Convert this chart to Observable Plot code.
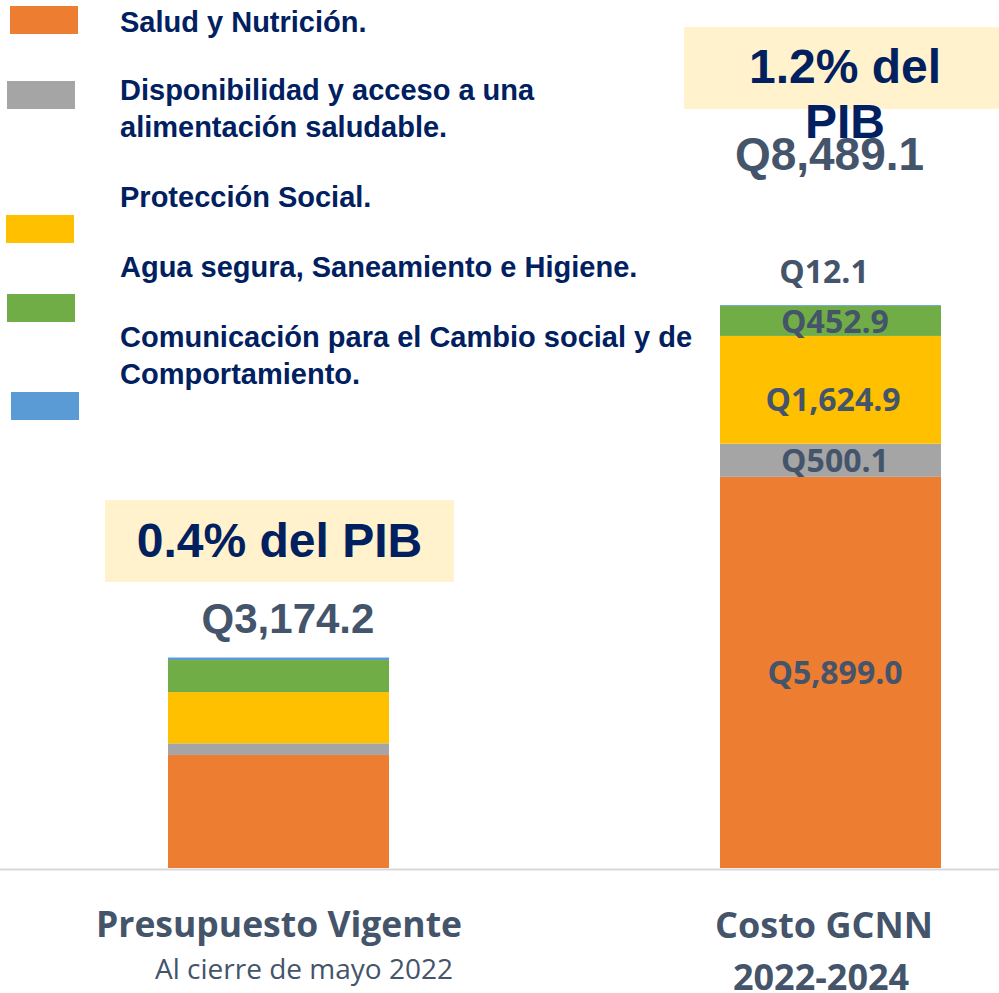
<!DOCTYPE html>
<html><head><meta charset="utf-8">
<script src="https://cdn.jsdelivr.net/npm/d3@7"></script>
<script src="https://cdn.jsdelivr.net/npm/@observablehq/plot@0.6"></script>
<style>
body{margin:0;background:#fff;}
#wrap{position:relative;width:999px;height:993px;overflow:hidden;background:#fff;}
#wrap svg{position:absolute;left:0;top:0;}
.sw{position:absolute;width:68px;height:28px;}
.lg{position:absolute;left:120px;font:bold 29px/37px "Liberation Sans",Arial,sans-serif;color:#002060;white-space:pre;}
.pib{position:absolute;height:82px;background:#FFF2CC;box-sizing:border-box;text-align:center;font:bold 48px/55px "Liberation Sans",Arial,sans-serif;color:#002060;white-space:pre;}
</style></head><body><div id="wrap"></div>
<script>
// ---- data ----
const categories = ["Presupuesto Vigente", "Costo GCNN"];
const series = [
  "Salud y Nutrición.",
  "Disponibilidad y acceso a una alimentación saludable.",
  "Protección Social.",
  "Agua segura, Saneamiento e Higiene.",
  "Comunicación para el Cambio social y de Comportamiento."
];
const presupuestoValues = [1705.0, 175.0, 773.0, 483.0, 38.2];
const costoValues = [5899.0, 500.1, 1624.9, 452.9, 12.1];
const totals = [3174.2, 8489.1];
const pibLabels = ["0.4% del PIB", "1.2% del\nPIB"];
const categoryLine1 = ["Presupuesto Vigente", "Costo GCNN"];
const categoryLine2 = ["Al cierre de mayo 2022", "2022-2024"];
const legendLabels = [
  "Salud y Nutrición.",
  "Disponibilidad y acceso a una\nalimentación saludable.",
  "Protección Social.",
  "Agua segura, Saneamiento e Higiene.",
  "Comunicación para el Cambio social y de\nComportamiento."
];
const colors = ["#ED7D31", "#A5A5A5", "#FFC000", "#70AD47", "#5B9BD5"];

// ---- layout (styles only) ----
const swatchPos = [[10, 6], [7, 81], [6, 215], [7, 294], [11, 392]];
const legendTops = [3.5, 71.5, 178.5, 248.5, 318.5];
const pibBoxes = [{left: 105, top: 500, width: 349, pad: 13}, {left: 684, top: 27, width: 322, pad: 12}];

// ---- tables ----
const rows = [];
[presupuestoValues, costoValues].forEach((vals, i) =>
  vals.forEach((v, j) => rows.push({cat: categories[i], series: series[j], value: v, idx: j})));
const totalRows = categories.map((c, i) => ({cat: c, total: totals[i]}));
const catRows = categories.map((c, i) => ({cat: c, l1: categoryLine1[i], l2: categoryLine2[i]}));
const fmt = d3.format(",.1f");
const slate = "#44546A";
const calibriLike = "'Open Sans', sans-serif";
const arialLike = "'Liberation Sans', Arial, sans-serif";
const segText = (pred) => d => (d.cat === categories[1] && pred(d.idx)) ? "Q" + fmt(d.value) : null;

const chart = Plot.plot({
  width: 999, height: 993,
  marginTop: 0, marginBottom: 125, marginLeft: 0, marginRight: 0,
  x: {type: "band", domain: categories, range: [112, 996], paddingInner: 0.6, paddingOuter: 0.1, axis: null},
  y: {domain: [0, 13090], axis: null},
  color: {domain: series, range: colors},
  marks: [
    Plot.barY(rows, {x: "cat", y: "value", fill: "series"}),
    Plot.ruleY([0], {stroke: "#D9D9D9", strokeWidth: 2, dy: 1}),
    // segment labels (Costo GCNN)
    Plot.text(rows, Plot.stackY({x: "cat", y: "value", z: "series",
      text: segText(i => i === 0 || i === 1 || i === 3),
      fill: slate, fontFamily: calibriLike, fontWeight: "bold", fontSize: 32, dx: 4, dy: 1})),
    Plot.text(rows, Plot.stackY({x: "cat", y: "value", z: "series",
      text: segText(i => i === 2),
      fill: slate, fontFamily: calibriLike, fontWeight: "bold", fontSize: 32, dx: 2, dy: 10})),
    Plot.text(rows, Plot.stackY2({x: "cat", y: "value", z: "series",
      text: segText(i => i === 4),
      fill: slate, fontFamily: calibriLike, fontWeight: "bold", fontSize: 32, dx: -7, dy: -33})),
    // totals
    Plot.text(totalRows, {filter: d => d.cat === categories[0], x: "cat", y: "total",
      text: d => "Q" + fmt(d.total), fill: slate, fontFamily: arialLike, fontWeight: "bold",
      fontSize: 42, dx: 9, dy: -38}),
    Plot.text(totalRows, {filter: d => d.cat === categories[1], x: "cat", y: "total",
      text: d => "Q" + fmt(d.total), fill: slate, fontFamily: arialLike, fontWeight: "bold",
      fontSize: 46, dx: -1.5, dy: -150}),
    // category labels
    Plot.text(catRows, {filter: d => d.cat === categories[0], x: "cat", frameAnchor: "bottom", lineAnchor: "middle",
      text: "l1", fill: slate, fontFamily: calibriLike, fontWeight: "bold", fontSize: 35.5, dy: 57.5}),
    Plot.text(catRows, {filter: d => d.cat === categories[1], x: "cat", frameAnchor: "bottom", lineAnchor: "middle",
      text: "l1", fill: slate, fontFamily: calibriLike, fontWeight: "bold", fontSize: 36, dx: -7, dy: 57.5}),
    Plot.text(catRows, {filter: d => d.cat === categories[0], x: "cat", frameAnchor: "bottom", lineAnchor: "middle",
      text: "l2", fill: slate, fontFamily: calibriLike, fontWeight: "normal", fontSize: 28, dx: 25, dy: 102}),
    Plot.text(catRows, {filter: d => d.cat === categories[1], x: "cat", frameAnchor: "bottom", lineAnchor: "middle",
      text: "l2", fill: slate, fontFamily: calibriLike, fontWeight: "bold", fontSize: 36, dx: -10, dy: 109.5})
  ]
});

const wrap = document.getElementById("wrap");
wrap.appendChild(chart);

// legend
series.forEach((s, i) => {
  const sw = document.createElement("div");
  sw.className = "sw";
  sw.style.left = swatchPos[i][0] + "px";
  sw.style.top = swatchPos[i][1] + "px";
  sw.style.background = colors[i];
  wrap.appendChild(sw);
  const lg = document.createElement("div");
  lg.className = "lg";
  lg.style.top = legendTops[i] + "px";
  lg.textContent = legendLabels[i];
  wrap.appendChild(lg);
});

// PIB boxes
pibLabels.forEach((t, i) => {
  const b = document.createElement("div");
  b.className = "pib";
  b.style.left = pibBoxes[i].left + "px";
  b.style.top = pibBoxes[i].top + "px";
  b.style.width = pibBoxes[i].width + "px";
  b.style.paddingTop = pibBoxes[i].pad + "px";
  b.textContent = t;
  wrap.appendChild(b);
});
</script></body></html>
